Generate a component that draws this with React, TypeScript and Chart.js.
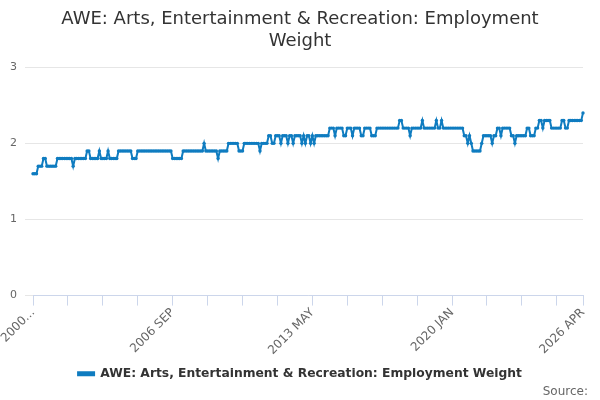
import { useEffect, useRef } from "react"
import { Chart, registerables } from "chart.js"

Chart.register(...registerables)

const startYear = 2000
const monthNames = ["JAN", "FEB", "MAR", "APR", "MAY", "JUN", "JUL", "AUG", "SEP", "OCT", "NOV", "DEC"]

// one row per year, Jan..Dec
const y2000 = [1.6, 1.6, 1.6, 1.7, 1.7, 1.7, 1.8, 1.8, 1.7, 1.7, 1.7, 1.7]
const y2001 = [1.7, 1.7, 1.8, 1.8, 1.8, 1.8, 1.8, 1.8, 1.8, 1.8, 1.8, 1.7]
const y2002 = [1.8, 1.8, 1.8, 1.8, 1.8, 1.8, 1.8, 1.9, 1.9, 1.8, 1.8, 1.8]
const y2003 = [1.8, 1.8, 1.9, 1.8, 1.8, 1.8, 1.8, 1.9, 1.8, 1.8, 1.8, 1.8]
const y2004 = [1.8, 1.9, 1.9, 1.9, 1.9, 1.9, 1.9, 1.9, 1.9, 1.8, 1.8, 1.8]
const y2005 = [1.9, 1.9, 1.9, 1.9, 1.9, 1.9, 1.9, 1.9, 1.9, 1.9, 1.9, 1.9]
const y2006 = [1.9, 1.9, 1.9, 1.9, 1.9, 1.9, 1.9, 1.9, 1.8, 1.8, 1.8, 1.8]
const y2007 = [1.8, 1.8, 1.9, 1.9, 1.9, 1.9, 1.9, 1.9, 1.9, 1.9, 1.9, 1.9]
const y2008 = [1.9, 1.9, 2.0, 1.9, 1.9, 1.9, 1.9, 1.9, 1.9, 1.9, 1.8, 1.9]
const y2009 = [1.9, 1.9, 1.9, 1.9, 2.0, 2.0, 2.0, 2.0, 2.0, 2.0, 1.9, 1.9]
const y2010 = [1.9, 2.0, 2.0, 2.0, 2.0, 2.0, 2.0, 2.0, 2.0, 2.0, 1.9, 2.0]
const y2011 = [2.0, 2.0, 2.0, 2.1, 2.1, 2.0, 2.0, 2.1, 2.1, 2.1, 2.0, 2.1]
const y2012 = [2.1, 2.1, 2.0, 2.1, 2.1, 2.0, 2.1, 2.1, 2.1, 2.1, 2.0, 2.1]
const y2013 = [2.0, 2.1, 2.1, 2.0, 2.1, 2.0, 2.1, 2.1, 2.1, 2.1, 2.1, 2.1]
const y2014 = [2.1, 2.1, 2.2, 2.2, 2.2, 2.1, 2.2, 2.2, 2.2, 2.2, 2.1, 2.1]
const y2015 = [2.2, 2.2, 2.2, 2.1, 2.2, 2.2, 2.2, 2.2, 2.1, 2.1, 2.2, 2.2]
const y2016 = [2.2, 2.2, 2.1, 2.1, 2.1, 2.2, 2.2, 2.2, 2.2, 2.2, 2.2, 2.2]
const y2017 = [2.2, 2.2, 2.2, 2.2, 2.2, 2.2, 2.3, 2.3, 2.2, 2.2, 2.2, 2.2]
const y2018 = [2.1, 2.2, 2.2, 2.2, 2.2, 2.2, 2.2, 2.3, 2.2, 2.2, 2.2, 2.2]
const y2019 = [2.2, 2.2, 2.2, 2.3, 2.2, 2.2, 2.3, 2.2, 2.2, 2.2, 2.2, 2.2]
const y2020 = [2.2, 2.2, 2.2, 2.2, 2.2, 2.2, 2.2, 2.1, 2.1, 2.0, 2.1, 2.0]
const y2021 = [1.9, 1.9, 1.9, 1.9, 1.9, 2.0, 2.1, 2.1, 2.1, 2.1, 2.1, 2.0]
const y2022 = [2.1, 2.1, 2.2, 2.2, 2.1, 2.2, 2.2, 2.2, 2.2, 2.2, 2.1, 2.1]
const y2023 = [2.0, 2.1, 2.1, 2.1, 2.1, 2.1, 2.1, 2.2, 2.2, 2.1, 2.1, 2.1]
const y2024 = [2.2, 2.2, 2.3, 2.3, 2.2, 2.3, 2.3, 2.3, 2.3, 2.2, 2.2, 2.2]
const y2025 = [2.2, 2.2, 2.2, 2.3, 2.3, 2.2, 2.2, 2.3, 2.3, 2.3, 2.3, 2.3]
const y2026 = [2.3, 2.3, 2.3, 2.4]

const weights = [
  ...y2000, ...y2001, ...y2002, ...y2003, ...y2004, ...y2005, ...y2006,
  ...y2007, ...y2008, ...y2009, ...y2010, ...y2011, ...y2012, ...y2013,
  ...y2014, ...y2015, ...y2016, ...y2017, ...y2018, ...y2019, ...y2020,
  ...y2021, ...y2022, ...y2023, ...y2024, ...y2025, ...y2026,
]

const labels = weights.map((_, i) => `${startYear + Math.floor(i / 12)} ${monthNames[i % 12]}`)

const yTicks = [0, 1, 2, 3]

const FONT = '"DejaVu Sans", sans-serif'

const sourcePlugin = {
  id: "source",
  afterDraw(chart: Chart) {
    const c = chart.ctx
    c.save()
    c.font = `12px ${FONT}`
    c.fillStyle = "#666"
    c.textAlign = "right"
    c.textBaseline = "bottom"
    c.fillText("Source:", chart.width - 12, chart.height - 2)
    c.restore()
  },
}

export default function App() {
  const chartRef = useRef<HTMLCanvasElement | null>(null)
  const chartInstance = useRef<Chart | null>(null)

  useEffect(() => {
    document.body.style.margin = "0"
    if (!chartRef.current) return
    if (chartInstance.current) chartInstance.current.destroy()

    const ctx = chartRef.current.getContext("2d")
    if (!ctx) return

    const last = labels.length - 1

    chartInstance.current = new Chart(ctx, {
      type: "line",
      data: {
        labels,
        datasets: [
          {
            label: "AWE: Arts, Entertainment & Recreation: Employment Weight",
            data: weights,
            borderColor: "#0f7cc0",
            backgroundColor: "#0f7cc0",
            borderWidth: 2,
            pointRadius: 1.7,
            pointBorderWidth: 0,
            pointBackgroundColor: "#0f7cc0",
            tension: 0,
            fill: false,
          },
        ],
      },
      options: {
        responsive: true,
        maintainAspectRatio: false,
        animation: false,
        layout: { padding: { left: 4, right: 4, top: 0, bottom: 10 } },
        scales: {
          x: {
            grid: {
              drawOnChartArea: false,
              color: "#ccd6eb",
              tickLength: 10,
            },
            border: { color: "#ccd6eb" },
            ticks: {
              autoSkip: false,
              maxRotation: 45,
              minRotation: 45,
              padding: 0,
              color: "#666",
              font: { family: FONT, size: 12 },
              callback: (_v, i) => {
                if (i === 0) return "2000..."
                if (i === last || i % 80 === 0) return labels[i]
                if (i % 20 === 0) return ""
                return null
              },
            },
          },
          y: {
            min: 0,
            max: 3,
            afterBuildTicks: (axis) => {
              axis.ticks = yTicks.map((v) => ({ value: v }))
            },
            afterFit: (axis) => {
              axis.width = 29
            },
            grid: { color: "#e6e6e6" },
            border: { display: false },
            ticks: {
              color: "#666",
              font: { family: FONT, size: 11 },
              padding: 8,
            },
          },
          // empty right margin so the plot ends where the reference does
          spacer: {
            type: "linear",
            position: "right",
            grid: { display: false },
            border: { display: false },
            ticks: { display: false },
            afterFit: (axis) => {
              axis.width = 13
            },
          },
        },
        plugins: {
          title: {
            display: true,
            text: ["AWE: Arts, Entertainment & Recreation: Employment", "Weight"],
            color: "#333",
            font: { family: FONT, size: 18, weight: "normal", lineHeight: 1.2 },
            padding: { top: 9, bottom: 15 },
          },
          legend: {
            position: "bottom",
            labels: {
              color: "#333",
              font: { family: FONT, size: 12.3, weight: "bold" },
              boxWidth: 16,
              boxHeight: 3,
              padding: 10,
            },
          },
          tooltip: { enabled: false },
        },
      },
      plugins: [sourcePlugin],
    })

    return () => {
      if (chartInstance.current) {
        chartInstance.current.destroy()
        chartInstance.current = null
      }
    }
  }, [])

  return (
    <div style={{ position: "relative", width: 600, height: 400 }}>
      <canvas ref={chartRef} />
    </div>
  )
}
